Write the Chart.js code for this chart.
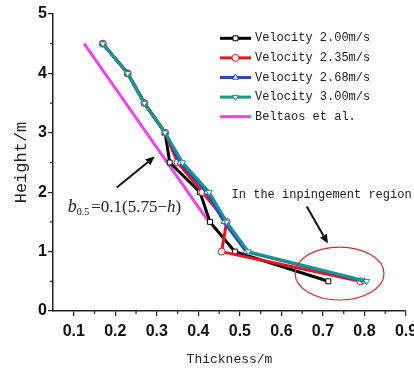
<!DOCTYPE html>
<html><head><meta charset="utf-8">
<script src="https://cdn.jsdelivr.net/npm/chart.js@4"></script>
<style>html,body{margin:0;padding:0;background:#fff}#c{display:block}</style>
</head><body>
<canvas id="c" width="414" height="369"></canvas>
<script>
const seriesLabels = ['Velocity 2.00m/s','Velocity 2.35m/s','Velocity 2.68m/s','Velocity 3.00m/s','Beltaos et al.'];
const heights = [4.5, 4.0, 3.5, 3.0, 2.5, 2.0, 1.5, 1.0, 0.5];
const thick200 = [0.17, 0.23, 0.27, 0.32, 0.331, 0.404, 0.428, 0.488, 0.713];
const thick235 = [0.17, 0.23, 0.27, 0.32, 0.35, 0.41, 0.468, 0.456, 0.79];
const thick268 = [0.17, 0.23, 0.27, 0.32, 0.356, 0.42, 0.462, 0.515, 0.80];
const thick300 = [0.17, 0.23, 0.27, 0.32, 0.362, 0.426, 0.468, 0.52, 0.805];
const beltaosH = [4.5, 1.5];
const beltaosB = [0.125, 0.425];
const xTicks = [0.1, 0.2, 0.3, 0.4, 0.5, 0.6, 0.7, 0.8, 0.9];
const xMinor = [0.15, 0.25, 0.35, 0.45, 0.55, 0.65, 0.75, 0.85];
const yTicks = [0, 1, 2, 3, 4, 5];
const yMinor = [0.5, 1.5, 2.5, 3.5, 4.5];

const colors = ['#000000', '#e8141c', '#2846d8', '#19958a', '#ee44ee'];
const styles = ['rect', 'circle', 'triangle', 'triangle', false];
const rots = [0, 0, 0, 180, 0];

function pts(xs, ys) { return xs.map((x, i) => ({x: x, y: ys[i]})); }
const seriesData = [pts(thick200, heights), pts(thick235, heights), pts(thick268, heights), pts(thick300, heights), pts(beltaosB, beltaosH)];
const orders = [3, 2, 1, 0, 4];

const datasets = seriesData.map((d, i) => ({
  label: seriesLabels[i],
  data: d,
  showLine: true,
  borderColor: colors[i],
  backgroundColor: colors[i],
  borderWidth: 3,
  pointStyle: styles[i] || 'circle',
  pointRotation: rots[i],
  pointRadius: styles[i] ? 3.5 : 0,
  pointBackgroundColor: '#ffffff',
  pointBorderColor: colors[i],
  pointBorderWidth: 1,
  order: orders[i]
}));

function arrow(ctx, x1, y1, x2, y2) {
  ctx.save();
  ctx.strokeStyle = '#111'; ctx.fillStyle = '#111'; ctx.lineWidth = 2;
  const a = Math.atan2(y2 - y1, x2 - x1);
  const hl = 9, hw = 4;
  const bx = x2 - hl * Math.cos(a), by = y2 - hl * Math.sin(a);
  ctx.beginPath(); ctx.moveTo(x1, y1); ctx.lineTo(bx, by); ctx.stroke();
  ctx.beginPath();
  ctx.moveTo(x2, y2);
  ctx.lineTo(bx + hw * Math.sin(a), by - hw * Math.cos(a));
  ctx.lineTo(bx - hw * Math.sin(a), by + hw * Math.cos(a));
  ctx.closePath(); ctx.fill();
  ctx.restore();
}

const deco = {
  id: 'deco',
  afterDraw(chart) {
    const ctx = chart.ctx, xs = chart.scales.x, ys = chart.scales.y;
    const X = v => xs.getPixelForValue(v), Y = v => ys.getPixelForValue(v);
    ctx.save();
    // minor ticks
    ctx.strokeStyle = '#222'; ctx.lineWidth = 1.2;
    xMinor.forEach(v => { ctx.beginPath(); ctx.moveTo(X(v), ys.bottom); ctx.lineTo(X(v), ys.bottom + 3); ctx.stroke(); });
    yMinor.forEach(v => { ctx.beginPath(); ctx.moveTo(xs.left, Y(v)); ctx.lineTo(xs.left - 3, Y(v)); ctx.stroke(); });
    // ellipse
    ctx.strokeStyle = '#e0262c'; ctx.lineWidth = 1.2;
    const ecx = X(0.740), ecy = Y(0.631);
    const erx = X(0.740 + 0.107) - ecx, ery = ecy - Y(0.631 + 0.446);
    ctx.beginPath(); ctx.ellipse(ecx, ecy, erx, ery, 0, 0, Math.PI * 2); ctx.stroke();
    // arrows
    arrow(ctx, X(0.2036), Y(2.079), X(0.295), Y(2.60));
    arrow(ctx, X(0.661), Y(1.759), X(0.712), Y(1.136));
    // annotation texts
    ctx.fillStyle = '#222';
    ctx.textBaseline = 'middle'; ctx.textAlign = 'left';
    ctx.font = '12px "Liberation Mono"';
    ctx.fillText('In the inpingement region', X(0.48), Y(1.96));
    // formula
    let fx = X(0.0855), fy = Y(1.745) + 5;
    ctx.textBaseline = 'alphabetic';
    ctx.font = 'italic 18px "Liberation Serif"';
    ctx.fillText('b', fx, fy); fx += ctx.measureText('b').width;
    ctx.font = '10px "Liberation Serif"';
    ctx.fillText('0.5', fx, fy + 3); fx += ctx.measureText('0.5').width + 2;
    ctx.font = '17px "Liberation Serif"';
    ctx.fillText('=0.1(5.75\u2212', fx, fy); fx += ctx.measureText('=0.1(5.75\u2212').width;
    ctx.font = 'italic 17px "Liberation Serif"';
    ctx.fillText('h', fx, fy); fx += ctx.measureText('h').width;
    ctx.font = '17px "Liberation Serif"';
    ctx.fillText(')', fx, fy);
    // legend
    const rowY = [38.3, 57.9, 77.5, 97.1, 116.7];
    chart.data.datasets.forEach((ds, i) => {
      const y = rowY[i];
      ctx.strokeStyle = ds.borderColor; ctx.lineWidth = 3;
      ctx.beginPath(); ctx.moveTo(220, y); ctx.lineTo(251, y); ctx.stroke();
      if (ds.pointRadius > 0) {
        ctx.fillStyle = '#ffffff'; ctx.strokeStyle = ds.borderColor; ctx.lineWidth = 1;
        Chart.helpers.drawPoint(ctx, {pointStyle: ds.pointStyle, rotation: ds.pointRotation, radius: 3.5, borderWidth: 1}, 235.5, y);
      }
      ctx.fillStyle = '#222'; ctx.font = '12px "Liberation Mono"'; ctx.textBaseline = 'middle';
      ctx.fillText(ds.label, 255, y);
    });
    ctx.restore();
  }
};

new Chart(document.getElementById('c'), {
  type: 'scatter',
  data: { datasets: datasets },
  options: {
    responsive: false,
    animation: false,
    layout: { padding: { top: 14, right: 8, bottom: 0, left: 0 } },
    plugins: { legend: { display: false }, tooltip: { enabled: false } },
    scales: {
      x: {
        type: 'linear', min: 0.05, max: 0.9,
        afterBuildTicks: s => { s.ticks = xTicks.map(v => ({value: v})); },
        afterFit: s => { s.height = 58; s.paddingLeft = 0; s.paddingRight = 0; },
        grid: { display: true, drawOnChartArea: false, drawTicks: true, tickLength: 5, color: '#222', lineWidth: 1.2 },
        border: { display: true, color: '#222', width: 1.5 },
        ticks: { color: '#111', font: { family: '"Liberation Sans"', size: 16, weight: 'bold' }, padding: 6, maxRotation: 0, autoSkip: false, callback: v => v.toFixed(1) },
        title: { display: true, text: 'Thickness/m', color: '#222', font: { family: '"Liberation Mono"', size: 13 }, padding: { top: 0, bottom: 2 } }
      },
      y: {
        type: 'linear', min: 0, max: 5,
        afterBuildTicks: s => { s.ticks = yTicks.map(v => ({value: v})); },
        afterFit: s => { s.width = 53; s.paddingTop = 0; s.paddingBottom = 0; },
        grid: { display: true, drawOnChartArea: false, drawTicks: true, tickLength: 5, color: '#222', lineWidth: 1.2 },
        border: { display: true, color: '#222', width: 1.5 },
        ticks: { color: '#111', font: { family: '"Liberation Sans"', size: 16, weight: 'bold' }, padding: 1, callback: v => String(v) },
        title: { display: true, text: 'Height/m', color: '#222', font: { family: '"Liberation Mono"', size: 17 }, padding: { top: 11, bottom: 0 } }
      }
    }
  },
  plugins: [deco]
});
</script>
</body></html>
